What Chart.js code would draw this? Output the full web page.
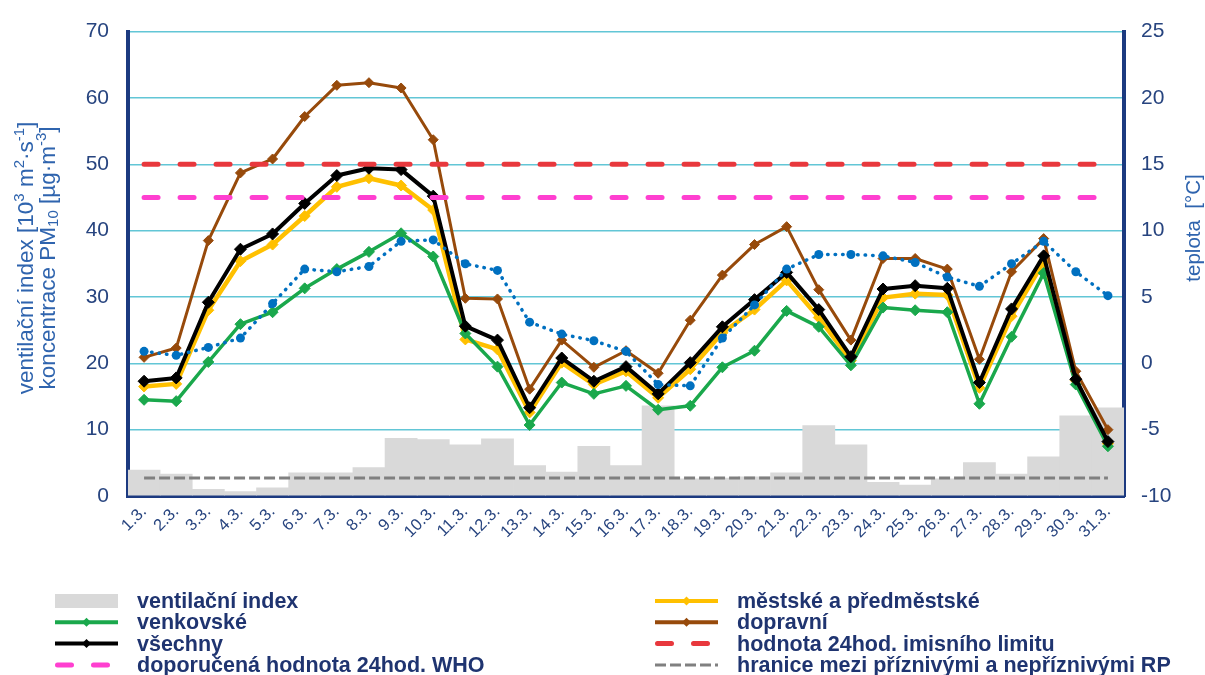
<!DOCTYPE html>
<html>
<head>
<meta charset="utf-8">
<script src="https://cdn.jsdelivr.net/npm/chart.js@4.4.1/dist/chart.umd.min.js"></script>
<style>
  html, body { margin: 0; padding: 0; background: #ffffff; }
  canvas { display: block; }
</style>
</head>
<body>
<canvas id="chart" width="1205" height="675"></canvas>
<script>
// Days of March
const days = ['1.3.', '2.3.', '3.3.', '4.3.', '5.3.', '6.3.', '7.3.', '8.3.', '9.3.', '10.3.',
  '11.3.', '12.3.', '13.3.', '14.3.', '15.3.', '16.3.', '17.3.', '18.3.', '19.3.', '20.3.',
  '21.3.', '22.3.', '23.3.', '24.3.', '25.3.', '26.3.', '27.3.', '28.3.', '29.3.', '30.3.', '31.3.'];

// Ventilation index [10^3 m2/s]
const ventilation = [3.9, 3.3, 1.0, 0.65, 1.25, 3.5, 3.5, 4.3, 8.7, 8.5,
  7.7, 8.6, 4.6, 3.6, 7.5, 4.6, 13.6, 2.6, 2.7, 2.9,
  3.5, 10.6, 7.7, 2.05, 1.65, 2.6, 5.05, 3.3, 5.9, 12.1, 13.3];

// PM10 daily mean concentrations [µg/m3] by station class
const urban = [16.5, 16.9, 28.0, 35.4, 37.9, 42.2, 46.6, 47.9, 46.8, 43.1,
  23.6, 22.1, 12.6, 20.1, 16.8, 18.8, 14.8, 19.1, 24.6, 28.1,
  32.5, 26.9, 20.4, 29.9, 30.5, 30.3, 16.3, 27.1, 35.3, 17.4, 7.9];
const rural = [14.5, 14.3, 20.2, 25.9, 27.7, 31.3, 34.2, 36.8, 39.6, 36.1,
  24.5, 19.5, 10.7, 17.1, 15.4, 16.6, 13.0, 13.6, 19.4, 21.9,
  27.9, 25.5, 19.7, 28.4, 28.0, 27.7, 13.9, 24.0, 33.6, 16.8, 7.5];
const traffic = [20.9, 22.3, 38.5, 48.7, 50.8, 57.2, 61.9, 62.3, 61.5, 53.7,
  29.8, 29.7, 16.1, 23.5, 19.4, 21.9, 18.5, 26.5, 33.3, 37.9,
  40.6, 31.1, 23.5, 35.8, 35.8, 34.2, 20.6, 33.8, 38.8, 18.8, 10.0];
const allStations = [17.3, 17.8, 29.2, 37.2, 39.5, 44.1, 48.3, 49.4, 49.2, 45.2,
  25.6, 23.5, 13.3, 20.8, 17.3, 19.5, 15.4, 20.1, 25.5, 29.6,
  33.7, 28.1, 21.0, 31.2, 31.7, 31.3, 17.1, 28.2, 36.2, 17.6, 8.2];

// Daily mean temperature [°C]
const temperature = [0.9, 0.6, 1.2, 1.9, 4.5, 7.1, 6.9, 7.3, 9.2, 9.3,
  7.5, 7.0, 3.1, 2.2, 1.7, 0.9, -1.6, -1.7, 1.9, 4.4,
  7.1, 8.2, 8.2, 8.1, 7.6, 6.5, 5.8, 7.5, 9.2, 6.9, 5.1];

// Reference levels
const LIMIT_24H = 50;      // 24h limit value
const WHO_24H = 45;        // WHO 24h guideline
const VI_BOUNDARY = 2.7;   // favourable / unfavourable dispersion boundary

// Axis ticks
const leftTicks = { min: 0, max: 70, step: 10 };
const rightTicks = { min: -10, max: 25, step: 5 };

const NAVY = '#1c3a80';
const TICK_COLOR = '#27447f';
const TITLE_COLOR = '#2f64ae';
const LEGEND_COLOR = '#1f3470';
const GRID = '#62c6d6';
const YELLOW = '#ffc000';
const GREEN = '#1aa84c';
const BROWN = '#974a0b';
const BLACK = '#000000';
const RED = '#e8383d';
const MAGENTA = '#ff3fd0';
const GREY = '#808080';
const BAR = '#d9d9d9';
const BLUE = '#0070c0';
const FONT = "'Liberation Sans', Arial, sans-serif";

function seriesLine(label, data, color, width, radius, order) {
  return {
    type: 'line', label, data, yAxisID: 'y',
    borderColor: color, backgroundColor: color,
    borderWidth: width, borderJoinStyle: 'round',
    pointStyle: 'rectRot', pointRadius: radius, pointBorderWidth: 1,
    pointBorderColor: color, pointBackgroundColor: color,
    tension: 0, order
  };
}
function levelLine(label, value, color, width, dash, cap, order) {
  return {
    type: 'line', label, data: days.map(() => value), yAxisID: 'y',
    borderColor: color, borderWidth: width, borderDash: dash, borderCapStyle: cap,
    pointRadius: 0, tension: 0, order
  };
}

const datasets = [
  seriesLine('městské a předměstské', urban, YELLOW, 4.5, 5.5, 7),
  seriesLine('venkovské', rural, GREEN, 3.5, 5.5, 6),
  seriesLine('dopravní', traffic, BROWN, 3, 5, 5),
  seriesLine('všechny', allStations, BLACK, 4, 6, 4),
  levelLine('hodnota 24hod. imisního limitu', LIMIT_24H, RED, 5, [14, 22], 'round', 3),
  levelLine('doporučená hodnota 24hod. WHO', WHO_24H, MAGENTA, 5, [14, 22], 'round', 3),
  levelLine('hranice mezi příznivými a nepříznivými RP', VI_BOUNDARY, GREY, 3, [11, 4], 'butt', 8),
  {
    type: 'line', label: 'teplota', data: temperature, yAxisID: 'y1',
    borderColor: BLUE, backgroundColor: BLUE, borderWidth: 3.5,
    borderDash: [0.5, 7], borderCapStyle: 'round',
    pointStyle: 'circle', pointRadius: 4.5, pointBorderWidth: 0,
    pointBackgroundColor: BLUE, tension: 0, order: 1
  },
  {
    type: 'bar', label: 'ventilační index', data: ventilation, yAxisID: 'y',
    backgroundColor: BAR, borderWidth: 0,
    barPercentage: 1, categoryPercentage: 1, order: 10
  }
];

// Legend layout: [dataset label, column, row, symbol]
const legendLayout = [
  ['ventilační index', 0, 0, 'box'],
  ['venkovské', 0, 1, 'line'],
  ['všechny', 0, 2, 'line'],
  ['doporučená hodnota 24hod. WHO', 0, 3, 'dash'],
  ['městské a předměstské', 1, 0, 'line'],
  ['dopravní', 1, 1, 'line'],
  ['hodnota 24hod. imisního limitu', 1, 2, 'dash'],
  ['hranice mezi příznivými a nepříznivými RP', 1, 3, 'dash']
];

// Rich text (superscript / subscript) drawn centred at the origin
function drawRich(ctx, parts, size) {
  const small = Math.round(size * 0.68);
  let total = 0;
  parts.forEach(p => {
    ctx.font = (p.s ? small : size) + 'px ' + FONT;
    p.w = ctx.measureText(p.t).width;
    total += p.w;
  });
  let x = -total / 2;
  parts.forEach(p => {
    ctx.font = (p.s ? small : size) + 'px ' + FONT;
    const dy = p.s === 'sup' ? -size * 0.33 : (p.s === 'sub' ? size * 0.22 : 0);
    ctx.fillText(p.t, x, dy);
    x += p.w;
  });
}

const decorations = {
  id: 'decorations',
  afterDraw(chart) {
    const ctx = chart.ctx;
    ctx.save();
    ctx.fillStyle = TITLE_COLOR;
    ctx.textAlign = 'left';
    ctx.textBaseline = 'middle';

    // Left axis title (two lines)
    ctx.save();
    ctx.translate(27, 258);
    ctx.rotate(-Math.PI / 2);
    drawRich(ctx, [
      { t: 'ventilační index [10' }, { t: '3', s: 'sup' }, { t: ' m' }, { t: '2', s: 'sup' },
      { t: '·s' }, { t: '-1', s: 'sup' }, { t: ']' }
    ], 22.5);
    ctx.restore();
    ctx.save();
    ctx.translate(49, 258);
    ctx.rotate(-Math.PI / 2);
    drawRich(ctx, [
      { t: 'koncentrace PM' }, { t: '10', s: 'sub' }, { t: ' [µg·m' }, { t: '-3', s: 'sup' }, { t: ']' }
    ], 22.5);
    ctx.restore();

    // Right axis title
    ctx.save();
    ctx.translate(1194, 228);
    ctx.rotate(-Math.PI / 2);
    drawRich(ctx, [{ t: 'teplota  [°C]' }], 20.5);
    ctx.restore();

    // Legend
    const colX = [55, 655];
    const symW = 63;
    legendLayout.forEach(([label, col, row, kind]) => {
      const ds = chart.data.datasets.find(d => d.label === label);
      const x = colX[col];
      const y = 601 + row * 21.3;
      if (kind === 'box') {
        ctx.fillStyle = ds.backgroundColor;
        ctx.fillRect(x, y - 7, symW, 14);
      } else {
        ctx.save();
        ctx.strokeStyle = ds.borderColor;
        ctx.lineWidth = kind === 'line' ? 4 : ds.borderWidth;
        ctx.lineCap = ds.borderCapStyle || 'butt';
        ctx.setLineDash(kind === 'dash' ? ds.borderDash : []);
        ctx.beginPath();
        const inset = ctx.lineCap === 'round' ? ctx.lineWidth / 2 : 0;
        ctx.moveTo(x + inset, y);
        ctx.lineTo(x + symW - inset, y);
        ctx.stroke();
        ctx.restore();
        if (kind === 'line') {
          ctx.fillStyle = ds.borderColor;
          ctx.beginPath();
          const cx = x + symW / 2, r = 4.5;
          ctx.moveTo(cx, y - r); ctx.lineTo(cx + r, y); ctx.lineTo(cx, y + r); ctx.lineTo(cx - r, y);
          ctx.closePath();
          ctx.fill();
        }
      }
      ctx.fillStyle = LEGEND_COLOR;
      ctx.font = 'bold 21.5px ' + FONT;
      ctx.textAlign = 'left';
      ctx.textBaseline = 'middle';
      ctx.fillText(label, x + 82, y + 1);
    });
    ctx.restore();
  }
};

new Chart(document.getElementById('chart'), {
  type: 'bar',
  data: { labels: days, datasets },
  plugins: [decorations],
  options: {
    responsive: false,
    animation: false,
    devicePixelRatio: 1,
    layout: { padding: { top: 27, left: 0, right: 0, bottom: 0 } },
    plugins: { legend: { display: false }, tooltip: { enabled: false } },
    scales: {
      x: {
        grid: { display: false, drawTicks: false },
        border: { display: true, color: NAVY, width: 4 },
        ticks: {
          color: TICK_COLOR, font: { family: FONT, size: 16.5 },
          minRotation: 45, maxRotation: 45, autoSkip: false, padding: 6
        },
        afterFit(scale) { scale.height = 179; }
      },
      y: {
        position: 'left',
        min: leftTicks.min, max: leftTicks.max,
        ticks: { stepSize: leftTicks.step, color: TICK_COLOR, font: { family: FONT, size: 21 }, padding: 19 },
        grid: { color: GRID, lineWidth: 1.5, drawTicks: false },
        border: { display: true, color: NAVY, width: 4 },
        afterFit(scale) { scale.width = 128; }
      },
      y1: {
        position: 'right',
        min: rightTicks.min, max: rightTicks.max,
        ticks: { stepSize: rightTicks.step, color: TICK_COLOR, font: { family: FONT, size: 21 }, padding: 17 },
        grid: { display: false, drawTicks: false },
        border: { display: true, color: NAVY, width: 4 },
        afterFit(scale) { scale.width = 81; }
      }
    }
  }
});
</script>
</body>
</html>
